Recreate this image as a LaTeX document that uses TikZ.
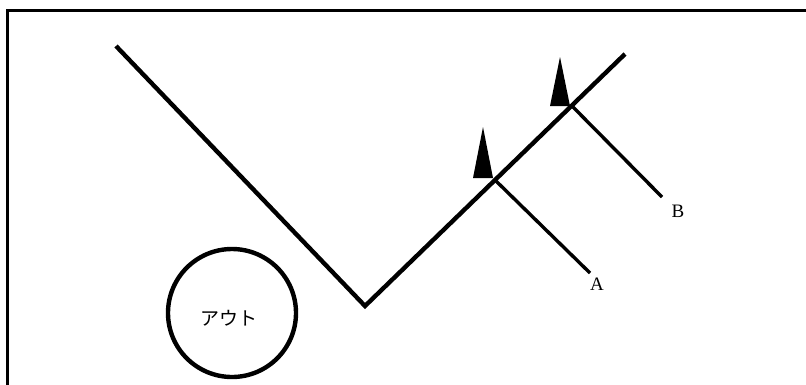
\documentclass[tikz,border=0pt]{standalone}
\usepackage{fontspec}
\setmainfont{Liberation Serif}
\newfontfamily\cjk{Noto Sans CJK JP}
\begin{document}
\begin{tikzpicture}[x=1pt,y=-1pt,
  mainline/.style={line width=4.4pt},
  branchline/.style={line width=3.4pt},
  flag/.style={fill=black},
  lbl/.style={font=\fontsize{19}{19}\selectfont, inner sep=0pt}]
\useasboundingbox (0,0) rectangle (806,384);
% frame
\draw[line width=3pt] (7,390) -- (7,10.5) -- (812,10.5);
% V line
\coordinate (L) at (116,46);
\coordinate (V) at (365,306);
\coordinate (R) at (625,54);
\coordinate (J1) at (495,180);
\coordinate (J2) at (572,106);
\coordinate (EA) at (590,273);
\coordinate (EB) at (662,197);
\draw[mainline, line join=miter] (L) -- (V) -- (R);
\draw[branchline] (J1) -- (EA);
\draw[branchline] (J2) -- (EB);
% flags
\fill[flag] (473,178) -- (483,127) -- (493,178) -- cycle;
\fill[flag] (550,106) -- (560,57) -- (570,106) -- cycle;
% labels
\node[lbl] (A) at (597,284) {A};
\node[lbl] (B) at (678,211) {B};
% circle
\node[draw, circle, line width=4.4pt, minimum size=128pt, inner sep=0pt] (out) at (232,313) {};
\node[font=\cjk\fontsize{19}{19}\selectfont, inner sep=0pt] (outlbl) at (229,318) {アウト};
\end{tikzpicture}
\end{document}
